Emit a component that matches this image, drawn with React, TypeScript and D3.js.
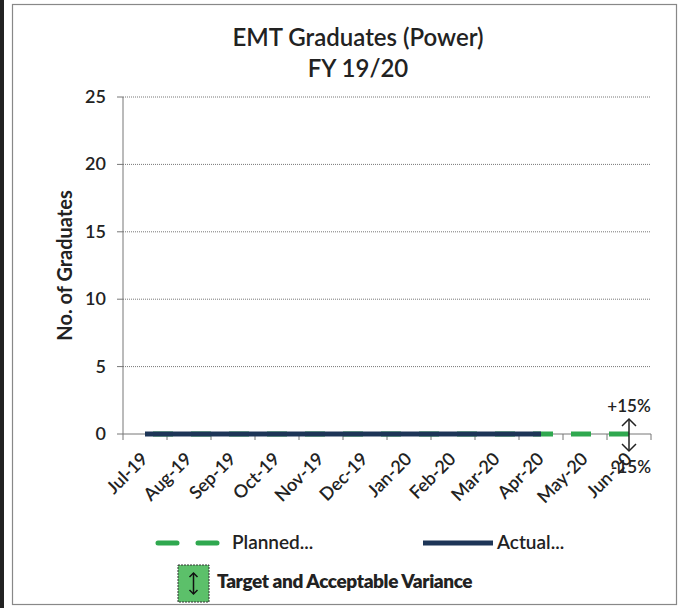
import React from 'react'
import * as d3 from 'd3'

const months = ['Jul-19', 'Aug-19', 'Sep-19', 'Oct-19', 'Nov-19', 'Dec-19', 'Jan-20', 'Feb-20', 'Mar-20', 'Apr-20', 'May-20', 'Jun-20']
const planned = [0, 0, 0, 0, 0, 0, 0, 0, 0, 0, 0, 0]
const actual = [0, 0, 0, 0, 0, 0, 0, 0, 0, 0]
const yTicks = [0, 5, 10, 15, 20, 25]

const FONT = 'Lato, "Open Sans", sans-serif'
const GREEN = '#2fa84f'
const NAVY = '#1d3557'

export default function App() {
  const left = 123, right = 651, top = 97, bottom = 434

  const x = d3.scaleBand<string>().domain(months).range([left, right])
  const y = d3.scaleLinear().domain([0, 25]).range([bottom, top])
  const cx = (m: string) => (x(m) as number) + x.bandwidth() / 2

  const plannedPath = d3.line<number>()
    .x((_, i) => cx(months[i]))
    .y(d => y(d))(planned) as string
  const actualPath = d3.line<number>()
    .x((_, i) => cx(months[i]))
    .y(d => y(d))(actual) as string

  const lastX = cx(months[months.length - 1])
  const lastY = y(planned[planned.length - 1])

  // boundaries for x ticks
  const bounds = months.map(m => x(m) as number).concat([right])

  return (
    <svg width={681} height={608} style={{ position: 'absolute', left: 0, top: 0, background: '#fff' }} fontFamily={FONT}>
      {/* page frame */}
      <rect x={0} y={0} width={4} height={608} fill="#222" />
      <rect x={12.5} y={4.5} width={664} height={600} fill="none" stroke="#888" strokeWidth={1.2} />

      {/* title */}
      <text x={358} y={46} textAnchor="middle" fontSize={24} fontWeight={600} fill="#222">EMT Graduates (Power)</text>
      <text x={358} y={77} textAnchor="middle" fontSize={24} fontWeight={600} fill="#222">FY 19/20</text>

      {/* gridlines */}
      {yTicks.filter(t => t > 0).map(t => (
        <line key={t} x1={left} x2={right} y1={y(t)} y2={y(t)} stroke="#777" strokeWidth={1} strokeDasharray="1,1" />
      ))}

      {/* y axis */}
      <line x1={left} x2={left} y1={top} y2={bottom} stroke="#777" strokeWidth={1} />
      {yTicks.map(t => (
        <g key={t}>
          <line x1={left - 6} x2={left} y1={y(t)} y2={y(t)} stroke="#777" />
          <text x={106} y={y(t) + 6} textAnchor="end" fontSize={18} fontWeight={600} fill="#222">{t}</text>
        </g>
      ))}
      <text transform={`translate(72,${(top + bottom) / 2}) rotate(-90)`} textAnchor="middle" fontSize={20} fontWeight={700} fill="#222">No. of Graduates</text>

      {/* x axis */}
      <line x1={left} x2={right} y1={bottom} y2={bottom} stroke="#777" strokeWidth={1} />
      {bounds.map((b, i) => (
        <line key={i} x1={b} x2={b} y1={bottom} y2={bottom + 6} stroke="#777" />
      ))}
      {months.map(m => (
        <text key={m} transform={`translate(${cx(m) + 4},${bottom + 26}) rotate(-45)`} textAnchor="end" fontSize={18} fontWeight={600} fill="#222">{m}</text>
      ))}

      {/* series */}
      <path d={plannedPath} fill="none" stroke={GREEN} strokeWidth={5} strokeDasharray="20,18" strokeDashoffset={-8} />
      <path d={actualPath} fill="none" stroke={NAVY} strokeWidth={5} />

      {/* variance arrow */}
      <g stroke="#222" strokeWidth={1.5} fill="none">
        <line x1={lastX} x2={lastX} y1={lastY - 15} y2={lastY + 17} />
        <polyline points={`${lastX - 7},${lastY - 8} ${lastX},${lastY - 15} ${lastX + 7},${lastY - 8}`} />
        <polyline points={`${lastX - 7},${lastY + 10} ${lastX},${lastY + 17} ${lastX + 7},${lastY + 10}`} />
      </g>
      <text x={lastX} y={lastY - 22} textAnchor="middle" fontSize={17} fontWeight={600} fill="#222">+15%</text>
      <text x={lastX + 2} y={lastY + 39} textAnchor="middle" fontSize={17} fontWeight={600} fill="#222">-15%</text>

      {/* legend */}
      <line x1={158} x2={217} y1={543} y2={543} stroke={GREEN} strokeWidth={5} strokeDasharray="19,21" strokeLinecap="round" />
      <text x={232} y={549} fontSize={19} fontWeight={600} fill="#222">Planned...</text>
      <line x1={423} x2={493} y1={543} y2={543} stroke={NAVY} strokeWidth={5} />
      <text x={497} y={549} fontSize={19} fontWeight={600} fill="#222">Actual...</text>

      <rect x={178} y={565} width={31} height={37} fill="#5cc06a" stroke="#333" strokeWidth={1} strokeDasharray="2,1" />
      <g stroke="#111" strokeWidth={1.5} fill="none">
        <line x1={193.5} x2={193.5} y1={573} y2={594} />
        <polyline points="189.5,577 193.5,573 197.5,577" />
        <polyline points="189.5,590 193.5,594 197.5,590" />
      </g>
      <text x={217} y={588} fontSize={19} fontWeight={800} fill="#222" letterSpacing={-0.4}>Target and Acceptable Variance</text>
    </svg>
  )
}
